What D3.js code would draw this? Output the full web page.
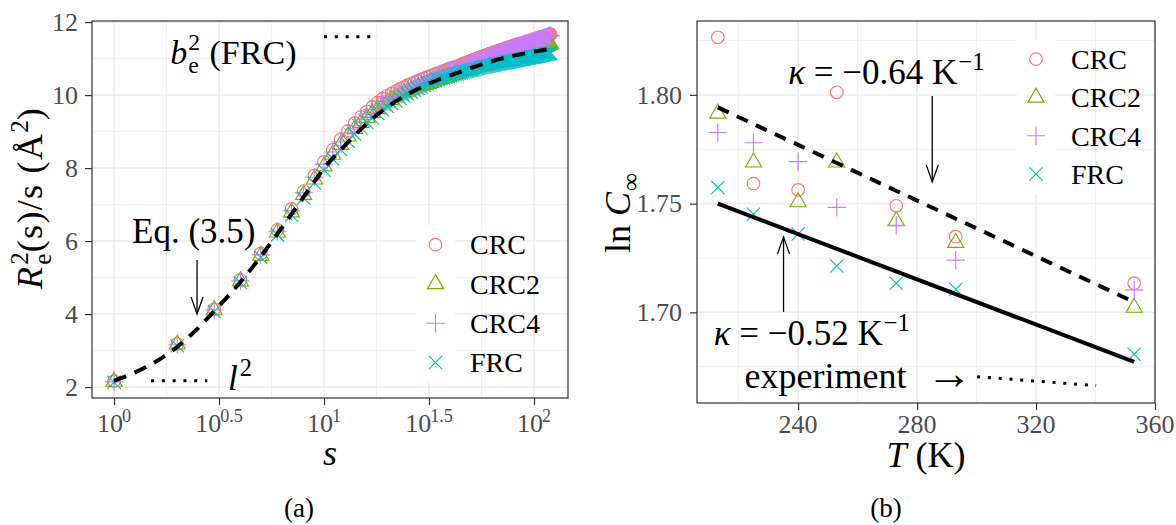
<!DOCTYPE html>
<html><head><meta charset="utf-8">
<script src="https://cdn.jsdelivr.net/npm/d3@7"></script>
<style>
body{margin:0;background:#fff}
text{font-family:"Liberation Serif","Times New Roman",serif;white-space:pre}
</style>
</head><body>
<svg id="c" width="1176" height="525"></svg>
<script>
// ---------------- DATA ----------------
const seriesNames = ["CRC", "CRC2", "CRC4", "FRC"];
const seriesColors = ["#F8766D", "#7CAE00", "#C77CFF", "#00BFC4"];

// panel (a): s = 1..120
const sVals = [1,2,3,4,5,6,7,8,9,10,11,12,13,14,15,16,17,18,19,20,21,22,23,24,25,26,27,28,29,30,
31,32,33,34,35,36,37,38,39,40,41,42,43,44,45,46,47,48,49,50,51,52,53,54,55,56,57,58,59,60,
61,62,63,64,65,66,67,68,69,70,71,72,73,74,75,76,77,78,79,80,81,82,83,84,85,86,87,88,89,90,
91,92,93,94,95,96,97,98,99,100,101,102,103,104,105,106,107,108,109,110,111,112,113,114,115,116,117,118,119,120];

const r2CRC = [2.16,3.18,4.13,4.94,5.66,6.31,6.88,7.37,7.80,8.17,
8.50,8.78,9.02,9.23,9.40,9.55,9.68,9.80,9.90,9.98,
10.05,10.11,10.17,10.22,10.27,10.31,10.35,10.39,10.43,10.46,
10.49,10.52,10.55,10.58,10.61,10.63,10.66,10.68,10.71,10.73,
10.75,10.77,10.79,10.81,10.83,10.86,10.88,10.90,10.92,10.94,
10.96,10.98,10.99,11.01,11.03,11.04,11.06,11.08,11.09,11.11,
11.12,11.14,11.15,11.17,11.18,11.19,11.20,11.22,11.23,11.24,
11.25,11.26,11.28,11.29,11.30,11.31,11.32,11.33,11.34,11.35,
11.36,11.37,11.38,11.39,11.40,11.40,11.41,11.42,11.43,11.44,
11.45,11.46,11.46,11.47,11.48,11.49,11.50,11.50,11.51,11.52,
11.53,11.54,11.54,11.55,11.56,11.57,11.57,11.58,11.59,11.60,
11.60,11.61,11.62,11.63,11.63,11.64,11.65,11.66,11.66,11.67];

const r2CRC2 = [2.15,3.17,4.11,4.90,5.60,6.24,6.79,7.27,7.69,8.05,
8.37,8.64,8.87,9.07,9.24,9.38,9.51,9.62,9.72,9.80,
9.87,9.94,10.00,10.05,10.10,10.14,10.18,10.22,10.25,10.28,
10.31,10.34,10.37,10.40,10.42,10.45,10.47,10.49,10.51,10.53,
10.55,10.57,10.59,10.61,10.63,10.65,10.66,10.68,10.70,10.71,
10.73,10.74,10.76,10.77,10.79,10.80,10.81,10.83,10.84,10.85,
10.86,10.88,10.89,10.90,10.91,10.92,10.93,10.94,10.95,10.96,
10.97,10.98,10.99,11.00,11.01,11.02,11.03,11.04,11.05,11.06,
11.07,11.08,11.09,11.10,11.10,11.11,11.12,11.13,11.14,11.15,
11.16,11.16,11.17,11.18,11.19,11.20,11.20,11.21,11.22,11.23,
11.24,11.24,11.25,11.26,11.27,11.28,11.28,11.29,11.30,11.31,
11.32,11.32,11.33,11.34,11.35,11.36,11.37,11.38,11.39,11.40];

const r2CRC4 = [2.14,3.16,4.11,4.91,5.62,6.27,6.83,7.32,7.75,8.11,
8.44,8.72,8.96,9.16,9.33,9.48,9.61,9.72,9.82,9.91,
9.98,10.05,10.11,10.16,10.21,10.25,10.29,10.33,10.37,10.40,
10.43,10.46,10.49,10.52,10.55,10.57,10.60,10.62,10.65,10.67,
10.69,10.71,10.73,10.75,10.77,10.80,10.82,10.84,10.86,10.88,
10.90,10.92,10.93,10.95,10.97,10.98,11.00,11.02,11.03,11.05,
11.06,11.08,11.09,11.11,11.12,11.14,11.15,11.17,11.18,11.19,
11.20,11.22,11.23,11.24,11.25,11.26,11.27,11.28,11.29,11.30,
11.31,11.32,11.33,11.34,11.35,11.36,11.37,11.38,11.39,11.40,
11.41,11.42,11.42,11.43,11.44,11.45,11.46,11.46,11.47,11.48,
11.49,11.50,11.50,11.51,11.52,11.53,11.53,11.54,11.55,11.56,
11.56,11.57,11.58,11.59,11.59,11.60,11.61,11.62,11.62,11.63];

const r2FRC = [2.13,3.13,4.07,4.86,5.55,6.17,6.71,7.18,7.59,7.94,
8.25,8.51,8.74,8.93,9.10,9.25,9.38,9.50,9.60,9.69,
9.77,9.84,9.91,9.97,10.03,10.08,10.13,10.18,10.22,10.27,
10.31,10.34,10.37,10.40,10.42,10.45,10.47,10.49,10.51,10.53,
10.55,10.57,10.58,10.60,10.61,10.63,10.64,10.65,10.67,10.68,
10.69,10.70,10.72,10.73,10.74,10.75,10.76,10.77,10.78,10.79,
10.80,10.81,10.81,10.82,10.83,10.84,10.85,10.85,10.86,10.87,
10.88,10.88,10.89,10.90,10.90,10.91,10.92,10.92,10.93,10.94,
10.94,10.95,10.95,10.96,10.97,10.97,10.98,10.98,10.99,10.99,
11.00,11.01,11.01,11.02,11.02,11.03,11.03,11.04,11.04,11.05,
11.05,11.06,11.06,11.07,11.07,11.08,11.08,11.09,11.09,11.10,
11.10,11.11,11.11,11.12,11.12,11.13,11.13,11.14,11.14,11.15];

// Eq. (3.5) curve
const eqS = [1,1.5,2,2.5,3,4,5,6,7,8,9,10,12,14,16,18,20,25,30,35,40,50,60,70,80,90,100,115];
const eqV = [2.17,2.62,3.10,3.60,4.08,4.88,5.58,6.20,6.74,7.21,7.63,8.00,8.49,8.90,9.22,9.47,9.67,10.02,10.25,10.42,10.54,10.74,10.89,11.00,11.08,11.14,11.19,11.25];

const aYTicks = [2,4,6,8,10,12];
const aXTickExps = ["0","0.5","1","1.5","2"];

// panel (b)
const temps = [213, 225, 240, 253, 273, 293, 353];
const lnCRC  = [1.8265, 1.7592, 1.7563, 1.8012, 1.7490, 1.7348, 1.7134];
const lnCRC2 = [1.7915, 1.7690, 1.7507, 1.7690, 1.7420, 1.7320, 1.7022];
const lnCRC4 = [1.7827, 1.7780, 1.7693, 1.7483, 1.7400, 1.7240, 1.7103];
const lnFRC  = [1.7574, 1.7451, 1.7360, 1.7213, 1.7134, 1.7106, 1.6807];
const fitT   = [213, 353];
const fitSim = [1.7943, 1.7047];   // kappa = -0.64
const fitExp = [1.7500, 1.6772];   // kappa = -0.52
const bXTicks = [240, 280, 320, 360];
const bYTicks = [1.70, 1.75, 1.80];

// ---------------- HELPERS ----------------
const svg = d3.select("#c");
const GRID = "#EBEBEB", BORDER = "#333333", TICKTXT = "#4D4D4D";

function rich(parent, parts, opt) {
  const size = opt.size, fill = opt.fill || "#000";
  const g = parent.append("g").attr("transform",
    `translate(${opt.x},${opt.y})` + (opt.rotate ? ` rotate(${opt.rotate})` : ""));
  let cx = 0;
  parts.forEach(p => {
    if (p.t !== undefined) {
      const t = g.append("text").attr("x", cx + (p.dx || 0)).attr("y", p.dy || 0)
        .attr("font-size", p.size || size).attr("fill", fill)
        .attr("font-style", p.it ? "italic" : "normal").text(p.t);
      if (opt.ls) t.attr("letter-spacing", opt.ls);
      cx += t.node().getComputedTextLength() + (p.dx || 0) + (p.gap || 0);
    } else {
      let w = 0;
      if (p.sup !== undefined) {
        const t = g.append("text").attr("x", cx + (p.dx || 0)).attr("y", -size * 0.40)
          .attr("font-size", size * 0.7).attr("fill", fill).text(p.sup);
        w = Math.max(w, t.node().getComputedTextLength() + (p.dx || 0));
      }
      if (p.sub !== undefined) {
        const t = g.append("text").attr("x", cx + (p.dx || 0)).attr("y", size * 0.25)
          .attr("font-size", size * 0.7).attr("fill", fill)
          .attr("font-style", p.subIt ? "italic" : "normal").text(p.sub);
        w = Math.max(w, t.node().getComputedTextLength() + (p.dx || 0));
      }
      cx += w + (p.gap || 0);
    }
  });
  const shift = opt.anchor === "middle" ? -cx / 2 : opt.anchor === "end" ? -cx : 0;
  if (shift) g.selectAll("text").attr("x", function () { return +d3.select(this).attr("x") + shift; });
  return g;
}

const R0 = 6.3;
function drawMarker(g, type, x, y, color) {
  const sw = 1.15;
  if (type === 0) {
    g.append("circle").attr("cx", x).attr("cy", y).attr("r", R0)
      .attr("fill", "none").attr("stroke", color).attr("stroke-width", sw);
  } else if (type === 1) {
    const r = 1.555 * R0 * 0.95, xc = 1.347 * R0 * 0.95, yc = 0.778 * R0 * 0.95;
    g.append("path").attr("d", `M${x},${y - r}L${x + xc},${y + yc}L${x - xc},${y + yc}Z`)
      .attr("fill", "none").attr("stroke", color).attr("stroke-width", sw);
  } else if (type === 2) {
    const h = 1.45 * R0;
    g.append("path").attr("d", `M${x - h},${y}H${x + h}M${x},${y - h}V${y + h}`)
      .attr("stroke", color).attr("stroke-width", sw);
  } else {
    const h = 1.05 * R0;
    g.append("path").attr("d", `M${x - h},${y - h}L${x + h},${y + h}M${x - h},${y + h}L${x + h},${y - h}`)
      .attr("stroke", color).attr("stroke-width", sw);
  }
}

function arrow(g, x, y1, y2) {
  const dir = y2 > y1 ? 1 : -1;
  g.append("line").attr("x1", x).attr("x2", x).attr("y1", y1).attr("y2", y2)
    .attr("stroke", "#000").attr("stroke-width", 1.3);
  g.append("path").attr("d", `M${x - 6},${y2 - dir * 17}L${x},${y2}L${x + 6},${y2 - dir * 17}`)
    .attr("fill", "none").attr("stroke", "#000").attr("stroke-width", 1.3);
}

function dotted(g, x1, y1, x2, y2) {
  g.append("line").attr("x1", x1).attr("y1", y1).attr("x2", x2).attr("y2", y2)
    .attr("stroke", "#000").attr("stroke-width", 3).attr("stroke-dasharray", "3,7.8");
}

// ---------------- PANEL (a) ----------------
const A = {l: 92, r: 568, t: 21, b: 398};
const xA = d3.scaleLog().domain([Math.pow(10, -0.105), Math.pow(10, 2.162)]).range([A.l, A.r]);
const yA = d3.scaleLinear().domain([1.70, 12.03]).range([A.b, A.t]);
const gA = svg.append("g");

const aXMinor = [0.25, 0.75, 1.25, 1.75].map(e => Math.pow(10, e));
const aYMinor = [3, 5, 7, 9, 11];
gA.selectAll(".xm").data(aXMinor).join("line").attr("x1", d => xA(d)).attr("x2", d => xA(d))
  .attr("y1", A.t).attr("y2", A.b).attr("stroke", GRID).attr("stroke-width", 0.8);
gA.selectAll(".ym").data(aYMinor).join("line").attr("y1", d => yA(d)).attr("y2", d => yA(d))
  .attr("x1", A.l).attr("x2", A.r).attr("stroke", GRID).attr("stroke-width", 0.8);
const aXMaj = aXTickExps.map(e => Math.pow(10, +e));
gA.selectAll(".xM").data(aXMaj).join("line").attr("x1", d => xA(d)).attr("x2", d => xA(d))
  .attr("y1", A.t).attr("y2", A.b).attr("stroke", GRID).attr("stroke-width", 1.5);
gA.selectAll(".yM").data(aYTicks).join("line").attr("y1", d => yA(d)).attr("y2", d => yA(d))
  .attr("x1", A.l).attr("x2", A.r).attr("stroke", GRID).attr("stroke-width", 1.5);

const legA = {x: 416, w: 39, y: 225, h: 39.3, lx: 470};
gA.append("rect").attr("x", legA.x).attr("y", legA.y).attr("width", legA.w).attr("height", legA.h * 4).attr("fill", "#fff");

const aSeries = [r2CRC, r2CRC2, r2CRC4, r2FRC];
const ptsA = gA.append("g");
aSeries.forEach((vals, k) => {
  vals.forEach((v, i) => drawMarker(ptsA, k, xA(sVals[i]), yA(v), seriesColors[k]));
});

const eqData = eqS.map((s, i) => ({s, v: eqV[i]}));
gA.append("path").datum(eqData)
  .attr("d", d3.line().x(d => xA(d.s)).y(d => yA(d.v)).curve(d3.curveMonotoneX))
  .attr("fill", "none").attr("stroke", "#000").attr("stroke-width", 4).attr("stroke-dasharray", "13,9");

gA.append("rect").attr("x", A.l).attr("y", A.t).attr("width", A.r - A.l).attr("height", A.b - A.t)
  .attr("fill", "none").attr("stroke", BORDER).attr("stroke-width", 1.2);

gA.append("g").attr("transform", `translate(0,${A.b})`)
  .call(d3.axisBottom(xA).tickValues(aXMaj).tickSize(7).tickFormat(() => ""))
  .call(g => { g.select(".domain").remove(); g.selectAll("line").attr("stroke", BORDER).attr("stroke-width", 1.2); });
gA.append("g").attr("transform", `translate(${A.l},0)`)
  .call(d3.axisLeft(yA).tickValues(aYTicks).tickSize(7).tickFormat(() => ""))
  .call(g => { g.select(".domain").remove(); g.selectAll("line").attr("stroke", BORDER).attr("stroke-width", 1.2); });

aXTickExps.forEach(e => {
  rich(gA, [{t: "10"}, {sup: e, dx: -1}], {x: xA(Math.pow(10, +e)), y: 432, size: 26, anchor: "middle", fill: TICKTXT});
});
aYTicks.forEach(v => {
  gA.append("text").attr("x", 78).attr("y", yA(v)).attr("dy", "0.34em").attr("text-anchor", "end")
    .attr("font-size", 26).attr("fill", TICKTXT).text(v);
});

rich(gA, [{t: "s", it: true}], {x: 330, y: 465, size: 36, anchor: "middle"});
rich(gA, [{t: "R", it: true}, {sup: "2", sub: "e", dx: 1}, {t: "(s)/s (Å"}, {sup: "2"}, {t: ")"}],
  {x: 42, y: 198, size: 36, anchor: "middle", rotate: -90, ls: 1.3});

// annotations (a)
rich(gA, [{t: "b", it: true}, {sup: "2", sub: "e", dx: 1, gap: 1}, {t: " (FRC)"}],
  {x: xA(1.85), y: yA(10.85), size: 34});
dotted(gA, xA(10), yA(11.6), xA(18.1), yA(11.6));
rich(gA, [{t: "Eq. (3.5)"}], {x: xA(1.218), y: yA(5.95), size: 35});
arrow(gA, xA(2.485), yA(5.48), yA(4.0));
rich(gA, [{t: "l", it: true}, {sup: "2", dx: 2}], {x: xA(3.49), y: yA(1.92), size: 35});
dotted(gA, xA(1.5), yA(2.17), xA(2.78), yA(2.17));

seriesNames.forEach((n, k) => {
  const cy = legA.y + legA.h * (k + 0.5);
  drawMarker(gA, k, legA.x + legA.w / 2, cy, seriesColors[k]);
  gA.append("text").attr("x", legA.lx).attr("y", cy).attr("dy", "0.35em").attr("font-size", 28).text(n);
});

rich(gA, [{t: "(a)"}], {x: 299, y: 517, size: 27, anchor: "middle"});

// ---------------- PANEL (b) ----------------
const B = {l: 697, r: 1155, t: 21, b: 403};
const xB = d3.scaleLinear().domain([206, 360]).range([B.l, B.r]);
const yB = d3.scaleLinear().domain([1.6583, 1.834]).range([B.b, B.t]);
const gB = svg.append("g");

const bXMinor = [220, 260, 300, 340];
const bYMinor = [1.675, 1.725, 1.775, 1.825];
gB.selectAll(".xm").data(bXMinor).join("line").attr("x1", d => xB(d)).attr("x2", d => xB(d))
  .attr("y1", B.t).attr("y2", B.b).attr("stroke", GRID).attr("stroke-width", 0.8);
gB.selectAll(".ym").data(bYMinor).join("line").attr("y1", d => yB(d)).attr("y2", d => yB(d))
  .attr("x1", B.l).attr("x2", B.r).attr("stroke", GRID).attr("stroke-width", 0.8);
gB.selectAll(".xM").data(bXTicks).join("line").attr("x1", d => xB(d)).attr("x2", d => xB(d))
  .attr("y1", B.t).attr("y2", B.b).attr("stroke", GRID).attr("stroke-width", 1.5);
gB.selectAll(".yM").data(bYTicks).join("line").attr("y1", d => yB(d)).attr("y2", d => yB(d))
  .attr("x1", B.l).attr("x2", B.r).attr("stroke", GRID).attr("stroke-width", 1.5);

const legB = {x: 1017, w: 38, y: 40, h: 38.3, lx: 1071};
gB.append("rect").attr("x", legB.x).attr("y", legB.y).attr("width", legB.w).attr("height", legB.h * 4).attr("fill", "#fff");

const bSeries = [lnCRC, lnCRC2, lnCRC4, lnFRC];
bSeries.forEach((vals, k) => {
  vals.forEach((v, i) => drawMarker(gB, k, xB(temps[i]), yB(v), seriesColors[k]));
});

const lineB = d3.line().x(d => xB(d[0])).y(d => yB(d[1]));
gB.append("path").datum(fitT.map((t, i) => [t, fitSim[i]])).attr("d", lineB)
  .attr("fill", "none").attr("stroke", "#000").attr("stroke-width", 4).attr("stroke-dasharray", "12,9");
gB.append("path").datum(fitT.map((t, i) => [t, fitExp[i]])).attr("d", lineB)
  .attr("fill", "none").attr("stroke", "#000").attr("stroke-width", 4);

gB.append("rect").attr("x", B.l).attr("y", B.t).attr("width", B.r - B.l).attr("height", B.b - B.t)
  .attr("fill", "none").attr("stroke", BORDER).attr("stroke-width", 1.2);

gB.append("g").attr("transform", `translate(0,${B.b})`)
  .call(d3.axisBottom(xB).tickValues(bXTicks).tickSize(7).tickFormat(() => ""))
  .call(g => { g.select(".domain").remove(); g.selectAll("line").attr("stroke", BORDER).attr("stroke-width", 1.2); });
gB.append("g").attr("transform", `translate(${B.l},0)`)
  .call(d3.axisLeft(yB).tickValues(bYTicks).tickSize(7).tickFormat(() => ""))
  .call(g => { g.select(".domain").remove(); g.selectAll("line").attr("stroke", BORDER).attr("stroke-width", 1.2); });

bXTicks.forEach(v => {
  gB.append("text").attr("x", xB(v)).attr("y", 433).attr("text-anchor", "middle")
    .attr("font-size", 26).attr("fill", TICKTXT).text(v);
});
bYTicks.forEach(v => {
  gB.append("text").attr("x", 682).attr("y", yB(v)).attr("dy", "0.34em").attr("text-anchor", "end")
    .attr("font-size", 26).attr("fill", TICKTXT).text(d3.format(".2f")(v));
});

rich(gB, [{t: "T", it: true}, {t: " (K)"}], {x: 926, y: 467, size: 36, anchor: "middle"});
rich(gB, [{t: "ln "}, {t: "C", it: true}, {sub: "∞", dx: 1}], {x: 630, y: 213, size: 36, anchor: "middle", rotate: -90});

// annotations (b)
rich(gB, [{t: "κ", it: true}, {t: " = −0.64 K"}, {sup: "−1", dx: 1}], {x: xB(236.7), y: yB(1.8051), size: 35});
arrow(gB, xB(285.1), yB(1.7995), yB(1.760));
rich(gB, [{t: "κ", it: true}, {t: " = −0.52 K"}, {sup: "−1", dx: 1}], {x: xB(211.6), y: yB(1.685), size: 35});
arrow(gB, xB(235.1), yB(1.7002), yB(1.7347));
rich(gB, [{t: "experiment", gap: 20}, {t: "→", size: 46, dy: 1}], {x: xB(222), y: yB(1.6652), size: 36});
dotted(gB, xB(300.2), yB(1.6704), xB(340.2), yB(1.6663));

seriesNames.forEach((n, k) => {
  const cy = legB.y + legB.h * (k + 0.5);
  drawMarker(gB, k, legB.x + legB.w / 2, cy, seriesColors[k]);
  gB.append("text").attr("x", legB.lx).attr("y", cy).attr("dy", "0.35em").attr("font-size", 28).text(n);
});

rich(gB, [{t: "(b)"}], {x: 886, y: 517, size: 27, anchor: "middle"});
</script>
</body></html>
